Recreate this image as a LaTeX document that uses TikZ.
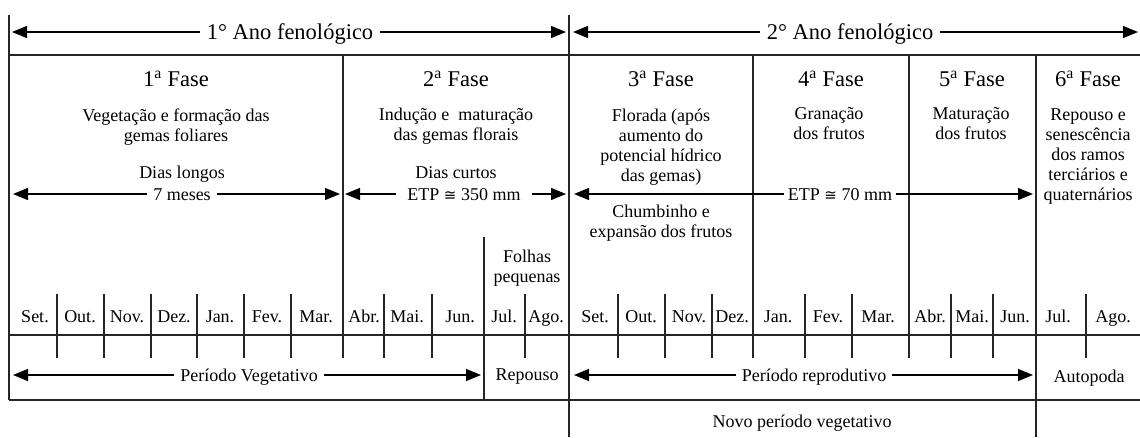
\documentclass[tikz,border=0pt]{standalone}
\usepackage{fontspec}
\setmainfont{Liberation Serif}
\newfontfamily\symfont{DejaVu Sans}
\usetikzlibrary{arrows.meta}
\newcommand{\approxeq}{{\symfont\fontsize{15}{18}\selectfont ≅}}
\begin{document}
\begin{tikzpicture}[x=1pt,y=-1pt,
  tline/.style={draw=black!85, line width=1.1pt},
  arr/.style={-{Triangle[length=15pt,width=12pt]}, line width=1.3pt, draw=black},
  hlbl/.style={font=\fontsize{22.5}{26}\selectfont, inner ysep=0pt, inner xsep=7pt, text height=15pt, text depth=0pt},
  slbl/.style={font=\fontsize{18}{20}\selectfont, inner ysep=0pt, inner xsep=6pt, text height=12pt, text depth=0pt},
  sblock/.style={font=\fontsize{18}{20}\selectfont, inner sep=0pt, align=center},
]
\useasboundingbox (0,0) rectangle (1140,437);

% ---------- table lines ----------
\draw[tline] (9,15) -- (9,400);
\draw[tline] (569,15) -- (569,437);
\draw[tline] (9,55) -- (1140,55);
\draw[tline] (9,335) -- (1140,335);
\draw[tline] (9,400) -- (1140,400);
\foreach \x in {343,753,909} \draw[tline] (\x,55) -- (\x,358);
\draw[tline] (1036,55) -- (1036,437);
\draw[tline] (484,237) -- (484,400);
\foreach \x in {57,104,151,197,244,291,384,432,525,618,665,712,805,852,951,993,1086}
  \draw[tline] (\x,294) -- (\x,358);

% ---------- years ----------
\node[hlbl] (ano1) at (290,32) {1° Ano fenológico};
\node[hlbl] (ano2) at (850,32) {2° Ano fenológico};
\coordinate (ano1L) at (12,32);  \coordinate (ano1R) at (566,32);
\coordinate (ano2L) at (573,32); \coordinate (ano2R) at (1138,32);
\draw[arr] (ano1.west) -- (ano1L);
\draw[arr] (ano1.east) -- (ano1R);
\draw[arr] (ano2.west) -- (ano2L);
\draw[arr] (ano2.east) -- (ano2R);

% ---------- phases ----------
\node[hlbl] (f1) at (176,79) {1\textsuperscript{a} Fase};
\node[hlbl] (f2) at (456,79) {2\textsuperscript{a} Fase};
\node[hlbl] (f3) at (661,79) {3\textsuperscript{a} Fase};
\node[hlbl] (f4) at (831,79) {4\textsuperscript{a} Fase};
\node[hlbl] (f5) at (972,79) {5\textsuperscript{a} Fase};
\node[hlbl] (f6) at (1088,79) {6\textsuperscript{a} Fase};

\node[sblock] (d1) at (176,127) {Vegetação e formação das\\gemas foliares};
\node[sblock] (d2) at (456,126) {Indução e\ \ maturação\\das gemas florais};
\node[sblock] (d3) at (661,147) {Florada (após\\aumento do\\potencial hídrico\\das gemas)};
\node[sblock] (d4) at (829,124) {Granação\\dos frutos};
\node[sblock] (d5) at (971,124) {Maturação\\dos frutos};
\node[sblock] (d6) at (1088,157) {Repouso e\\senescência\\dos ramos\\terciários e\\quaternários};
\node[sblock] (d3b) at (661,223) {Chumbinho e\\expansão dos frutos};
\node[sblock] (folhas) at (527,268) {Folhas\\pequenas};

\node[slbl] (dl) at (182,172) {Dias longos};
\node[slbl] (dc) at (456,172) {Dias curtos};

\node[slbl] (m7) at (182,194) {7 meses};
\coordinate (m7L) at (13,194); \coordinate (m7R) at (340,194);
\draw[arr] (m7.west) -- (m7L);
\draw[arr] (m7.east) -- (m7R);

\node[slbl, inner xsep=11pt] (etp1) at (464,194) {ETP \approxeq{} 350 mm};
\coordinate (etp1L) at (345,194); \coordinate (etp1R) at (566,194);
\draw[arr] (etp1.west) -- (etp1L);
\draw[arr] (etp1.east) -- (etp1R);

\node[slbl, inner xsep=4pt] (etp2) at (840,194) {ETP \approxeq{} 70 mm};
\coordinate (etp2L) at (574,194); \coordinate (etp2R) at (1033,194);
\draw[arr] (etp2.west) -- (etp2L);
\draw[arr] (etp2.east) -- (etp2R);

% ---------- months ----------
\foreach \x/\m [count=\i] in {35/Set.,80/Out.,127/Nov.,174/Dez.,220/Jan.,267/Fev.,316/Mar.,364/Abr.,407/Mai.,460/Jun.,504/Jul.,546/Ago.,
  595/Set.,641/Out.,689/Nov.,732/Dez.,778/Jan.,828/Fev.,878/Mar.,930/Abr.,972/Mai.,1015/Jun.,1058/Jul.,1113/Ago.}
  \node[slbl] (mes\i) at (\x,316) {\m};

% ---------- periods ----------
\node[slbl] (pveg) at (249,375) {Período Vegetativo};
\coordinate (pvegL) at (13,375); \coordinate (pvegR) at (481,375);
\draw[arr] (pveg.west) -- (pvegL);
\draw[arr] (pveg.east) -- (pvegR);

\node[slbl] (rep) at (527,374) {Repouso};

\node[slbl] (prep) at (814,375) {Período reprodutivo};
\coordinate (prepL) at (574,375); \coordinate (prepR) at (1033,375);
\draw[arr] (prep.west) -- (prepL);
\draw[arr] (prep.east) -- (prepR);

\node[slbl] (auto) at (1089,376) {Autopoda};
\node[slbl] (novo) at (802,421) {Novo período vegetativo};
\end{tikzpicture}
\end{document}
